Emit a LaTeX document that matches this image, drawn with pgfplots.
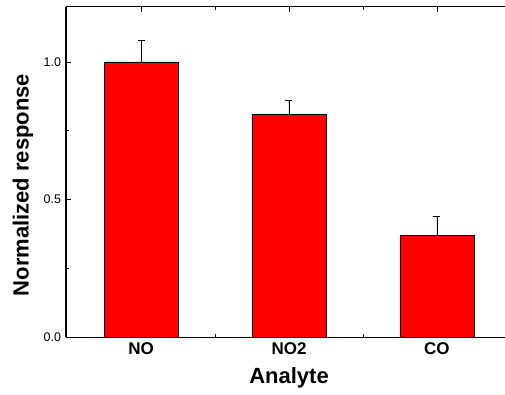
\documentclass[border=0pt]{standalone}
\usepackage{pgfplots}
\pgfplotsset{compat=1.18}
\usepackage{fontspec}
\setmainfont{Liberation Sans}
\begin{document}
\begin{tikzpicture}
\begin{axis}[
  at={(0,0)}, anchor=south west,
  scale only axis, width=439pt, height=330pt,
  xmin=-0.507, xmax=2.46, ymin=0, ymax=1.2,
  axis x line=box, axis y line=left,
  axis line style={line width=1pt, -},
  xtick={0,1,2}, xticklabels={NO,NO2,CO},
  minor xtick={0.5,1.5},
  ytick={0,0.5,1.0}, minor ytick={0.25,0.75},
  /pgf/number format/fixed, /pgf/number format/fixed zerofill, /pgf/number format/precision=1,
  /pgf/number format/assume math mode=true,
  tick align=inside,
  major tick length=5pt, minor tick length=3pt,
  tick style={black, line width=0.8pt},
  xticklabel style={font=\fontsize{17}{19}\selectfont\bfseries, yshift=-2pt},
  yticklabel style={font=\fontsize{12.5}{14}\selectfont, xshift=-1.5pt},
  xlabel={\bfseries Analyte},
  ylabel={\bfseries Normalized response},
  label style={font=\fontsize{22}{25}\selectfont},
  every axis x label/.append style={at={(axis description cs:0.508,0)}, anchor=center, yshift=-41pt},
  every axis y label/.append style={at={(axis description cs:-0.098,0.4606)}, anchor=center},
  clip=false,
]
\addplot[ybar, bar width=74pt, fill=red, draw=black, line width=0.8pt,
  error bars/.cd, y dir=plus, y explicit,
  error bar style={black, line width=0.8pt},
  error mark options={rotate=90, mark size=3.5pt, black, line width=0.8pt}]
  coordinates {(0,1.0) +- (0,0.08) (1,0.81) +- (0,0.05) (2,0.37) +- (0,0.07)};
\end{axis}
\pgfresetboundingbox
\path[use as bounding box] (-66pt,-57pt) rectangle (439pt,337pt);
\end{tikzpicture}
\end{document}
